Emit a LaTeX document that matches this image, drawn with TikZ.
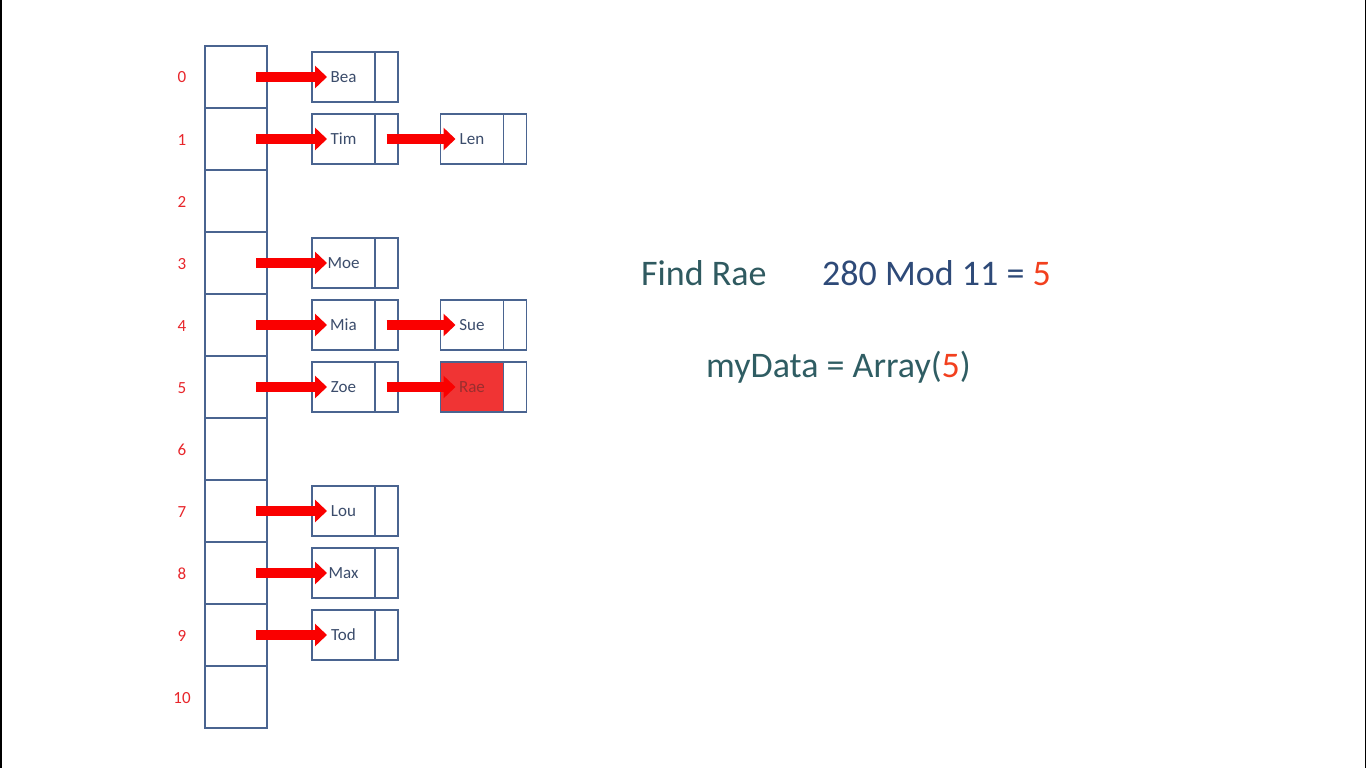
\documentclass[tikz,border=0pt]{standalone}
\usepackage{fontspec}
\setmainfont{Carlito}
\usetikzlibrary{arrows.meta}
\definecolor{boxc}{HTML}{4A6490}
\definecolor{namec}{HTML}{3B4C6B}
\definecolor{idxred}{HTML}{E8262B}
\definecolor{arrred}{HTML}{FA0000}
\definecolor{raered}{HTML}{F03434}
\definecolor{raetext}{HTML}{9A2E2E}
\definecolor{findc}{HTML}{2F5A60}
\definecolor{modc}{HTML}{2E4A78}
\definecolor{myc}{HTML}{2F5D63}
\definecolor{fivered}{HTML}{F2401E}
\begin{document}
\begin{tikzpicture}[x=1pt,y=-1pt,
  cell/.style={draw=boxc, line width=1.8pt, minimum width=62pt, minimum height=62pt, inner sep=0pt, outer sep=0pt},
  idx/.style={text=idxred, font=\fontsize{17}{17}\selectfont, inner sep=0pt, anchor=base},
  namebox/.style={draw=boxc, line width=1.8pt, minimum width=63pt, minimum height=50pt, inner sep=0pt, outer sep=0pt, text height=11.5pt, text depth=0pt, text=namec, font=\fontsize{17}{17}\selectfont},
  ptrbox/.style={draw=boxc, line width=1.8pt, minimum width=23pt, minimum height=50pt, inner sep=0pt, outer sep=0pt, anchor=west},
  ptr/.style={draw=arrred, line width=10pt, -{Triangle[length=12pt,width=22pt]}},
  bigtext/.style={anchor=base west, inner sep=0pt, font=\fontsize{36}{36}\selectfont}
]
\useasboundingbox (0,0) rectangle (1366,768);
\fill[white] (0,0) rectangle (1366,768);
\fill[black] (0,0) rectangle (2,768);
\fill[black] (1365,0) rectangle (1366,768);

% array cells and indices
\foreach \i in {0,...,10} {
  \node[cell] (c\i) at (236,{77+62*\i}) {};
  \node[idx] (i\i) at (182,{83+62*\i}) {\i};
}

% first-level records
\foreach \r/\nm in {0/Bea,1/Tim,3/Moe,4/Mia,5/Zoe,7/Lou,8/Max,9/Tod} {
  \node[namebox] (n\r) at (343.5,{77+62*\r}) {\nm};
  \node[ptrbox] (p\r) at (n\r.east) {};
  \draw[ptr] ([xshift=20pt]c\r.center) -- ([xshift=15pt]n\r.west);
}

% second-level records
\node[namebox] (l1) at (472,139) {Len};
\node[ptrbox] (q1) at (l1.east) {};
\node[namebox] (l4) at (472,325) {Sue};
\node[ptrbox] (q4) at (l4.east) {};
\node[namebox, fill=raered, text=raetext] (l5) at (472,387) {Rae};
\node[ptrbox] (q5) at (l5.east) {};

\draw[ptr] (p1.center) -- ([xshift=15pt]l1.west);
\draw[ptr] (p4.center) -- ([xshift=15pt]l4.west);
\draw[ptr] (p5.center) -- ([xshift=15pt]l5.west);

% right-hand text
\node[bigtext, text=findc] (find) at (641,285) {Find Rae};
\node[bigtext, text=modc] (mod) at (822,285) {280 Mod 11 = \textcolor{fivered}{5}};
\node[bigtext, text=myc] (my) at (706,377) {myData = Array(\textcolor{fivered}{5})};
\end{tikzpicture}
\end{document}
